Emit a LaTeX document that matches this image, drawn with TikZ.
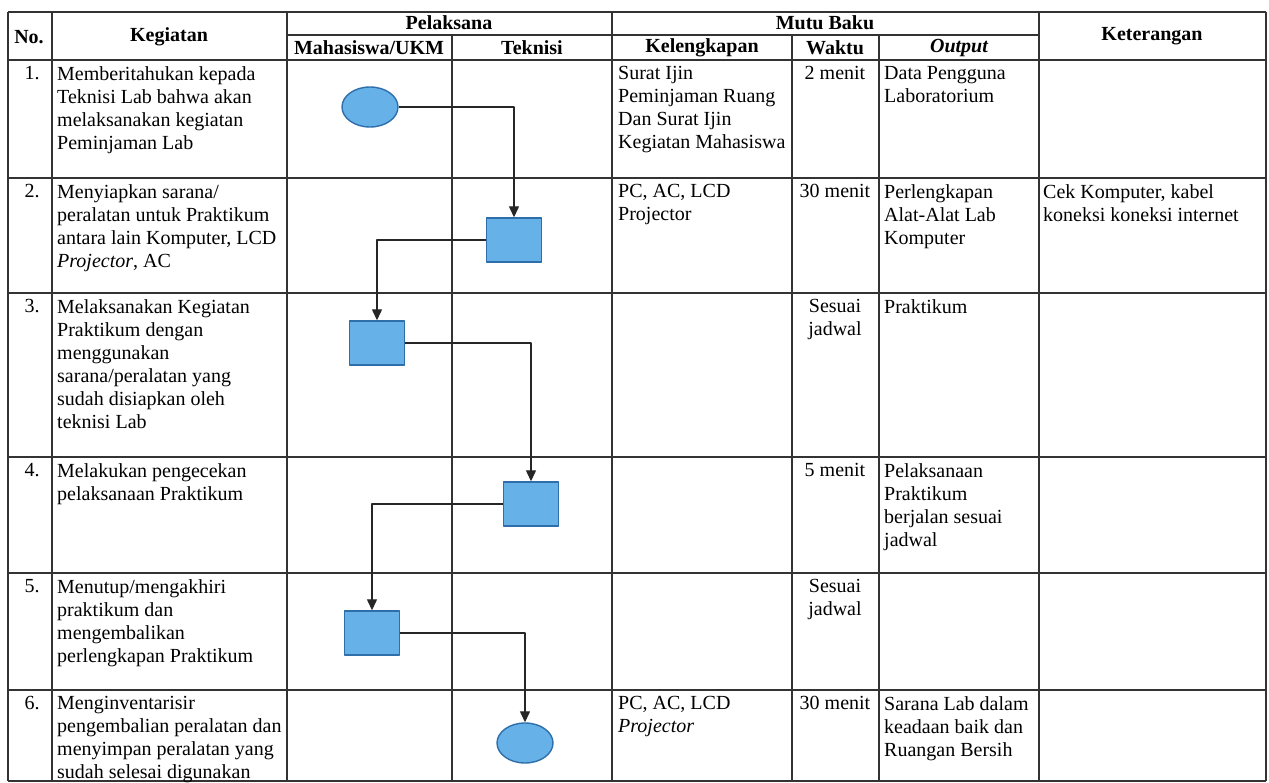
\documentclass[tikz,border=0pt]{standalone}
\usepackage{fontspec}
\setmainfont{Liberation Serif}
\usetikzlibrary{arrows.meta,shapes.geometric}
\definecolor{flowfill}{RGB}{102,178,232}
\definecolor{flowedge}{RGB}{46,110,170}
\newcommand{\cellfont}{\fontsize{20}{23}\selectfont}
\newcommand{\headfont}{\fontsize{20}{23}\selectfont\bfseries}

\begin{document}
\begin{tikzpicture}[x=1pt,y=-1pt,>={Triangle[length=11pt,width=10pt]}, line join=round,
	grid/.style={line width=1.3pt,black!80},
	cell/.style={anchor=north west,align=left,inner sep=0pt,font=\cellfont},
	mid/.style={anchor=north,align=center,inner sep=0pt,font=\cellfont},
	head/.style={align=center,inner sep=0pt,font=\headfont},
	terminal/.style={ellipse,draw=flowedge,fill=flowfill,line width=1.4pt,minimum width=56pt,minimum height=40pt,inner sep=0pt},
	process/.style={rectangle,draw=flowedge,fill=flowfill,line width=1.4pt,minimum width=55pt,minimum height=44pt,inner sep=0pt},
	link/.style={->,line width=1.3pt,black!85}]
	\def\xL{8} \def\xNo{52} \def\xKeg{287} \def\xMhs{452} \def\xTek{612} % Kolom
	\def\xKel{792} \def\xWkt{879} \def\xOut{1039} \def\xR{1266}
	\def\yT{12} \def\yH{35} \def\yA{60} \def\yB{178} \def\yC{293} % Baris
	\def\yD{457} \def\yE{573} \def\yF{690} \def\yG{781}
	\useasboundingbox (0,0) rectangle (1269,783);
	\fill[white] (0,0) rectangle (1269,783);
	% tabel
	\foreach \y in {\yT,\yA,\yB,\yC,\yD,\yE,\yF,\yG} \draw[grid] (\xL,\y)--(\xR,\y);
	\draw[grid] (\xKeg,\yH)--(\xOut,\yH);
	\foreach \x in {\xL,\xNo,\xKeg,\xTek,\xOut,\xR} \draw[grid] (\x,\yT)--(\x,\yG);
	\foreach \x in {\xMhs,\xKel,\xWkt} \draw[grid] (\x,\yH)--(\x,\yG);
	% judul
	\node[head] (hNo) at (29,37) {No.};
	\node[head] (hKeg) at (169,37) {Kegiatan};
	\node[head] (hPel) at (449,23) {Pelaksana};
	\node[head] (hMhs) at (369,48) {Mahasiswa/UKM};
	\node[head] (hTek) at (532,48) {Teknisi};
	\node[head] (hMutu) at (825,23) {Mutu Baku};
	\node[head] (hKel) at (702,48) {Kelengkapan};
	\node[head] (hWkt) at (835,48) {Waktu};
	\node[head] (hOut) at (959,48) {\itshape Output};
	\node[head] (hKet) at (1152,36) {Keterangan};
	% nomor
	\foreach \n/\y in {1/\yA,2/\yB,3/\yC,4/\yD,5/\yE,6/\yF}
		\node[mid] (no\n) at (32,\y+6) {\n.};
	% kegiatan
	\node[cell] (keg1) at (57,\yA+6) {Memberitahukan kepada\\Teknisi Lab bahwa akan\\melaksanakan kegiatan\\Peminjaman Lab};
	\node[cell] (keg2) at (57,\yB+6) {Menyiapkan sarana/\\peralatan untuk Praktikum\\antara lain Komputer, LCD\\\textit{Projector}, AC};
	\node[cell] (keg3) at (57,\yC+6) {Melaksanakan Kegiatan\\Praktikum dengan\\menggunakan\\sarana/peralatan yang\\sudah disiapkan oleh\\teknisi Lab};
	\node[cell] (keg4) at (57,\yD+6) {Melakukan pengecekan\\pelaksanaan Praktikum};
	\node[cell] (keg5) at (57,\yE+6) {Menutup/mengakhiri\\praktikum dan\\mengembalikan\\perlengkapan Praktikum};
	\node[cell] (keg6) at (57,\yF+6) {Menginventarisir\\pengembalian peralatan dan\\menyimpan peralatan yang\\sudah selesai digunakan};
	% mutu baku
	\node[cell] (kel1) at (618,\yA+6) {Surat Ijin\\Peminjaman Ruang\\Dan Surat Ijin\\Kegiatan Mahasiswa};
	\node[cell] (kel2) at (618,\yB+6) {PC, AC, LCD\\Projector};
	\node[cell] (kel6) at (618,\yF+6) {PC, AC, LCD\\\textit{Projector}};
	\node[mid] (wkt1) at (835,\yA+6) {2 menit};
	\node[mid] (wkt2) at (835,\yB+6) {30 menit};
	\node[mid] (wkt3) at (835,\yC+6) {Sesuai\\jadwal};
	\node[mid] (wkt4) at (835,\yD+6) {5 menit};
	\node[mid] (wkt5) at (835,\yE+6) {Sesuai\\jadwal};
	\node[mid] (wkt6) at (835,\yF+6) {30 menit};
	\node[cell] (out1) at (884,\yA+6) {Data Pengguna\\Laboratorium};
	\node[cell] (out2) at (884,\yB+6) {Perlengkapan\\Alat-Alat Lab\\Komputer};
	\node[cell] (out3) at (884,\yC+6) {Praktikum};
	\node[cell] (out4) at (884,\yD+6) {Pelaksanaan\\Praktikum\\berjalan sesuai\\jadwal};
	\node[cell] (out6) at (884,\yF+6) {Sarana Lab dalam\\keadaan baik dan\\Ruangan Bersih};
	\node[cell] (ket2) at (1043,\yB+6) {Cek Komputer, kabel\\koneksi koneksi internet};
	% alur
	\node[terminal] (start) at (370,107) {};
	\node[process] (prep) at (514,240) {};
	\node[process] (run) at (377,343) {};
	\node[process] (check) at (531,504) {};
	\node[process] (close) at (372,633) {};
	\node[terminal] (stop) at (525,743) {};
	\draw[link] (start) -| (prep);
	\draw[link] (prep) -| (run);
	\draw[link] (run) -| (check);
	\draw[link] (check) -| (close);
	\draw[link] (close) -| (stop);
\end{tikzpicture}
\end{document}
